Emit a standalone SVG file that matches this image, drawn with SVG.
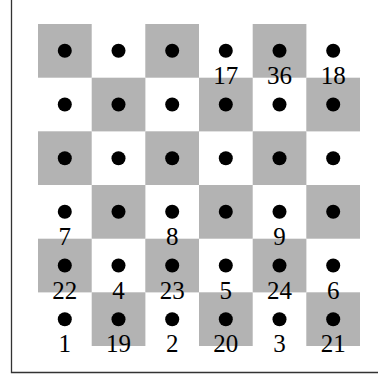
<svg xmlns="http://www.w3.org/2000/svg" width="378" height="376" viewBox="0 0 378 376">
<style>
.g{fill:#b3b3b3}
.d{fill:#000}
.t{font-family:"Liberation Serif","DejaVu Serif",serif;font-size:25px;text-anchor:middle;fill:#000}
.f{stroke:#333;stroke-width:1.3;fill:none}
</style>
<rect width="378" height="376" fill="#fff"/>
<g id="frame"><path class="f" d="M11.5,0 V372.5 H378"/></g>
<g id="cells">
<rect class="g" x="38" y="24" width="53.7" height="53.7"/>
<rect class="g" x="145.3" y="24" width="53.7" height="53.7"/>
<rect class="g" x="252.7" y="24" width="53.7" height="53.7"/>
<rect class="g" x="91.7" y="77.7" width="53.7" height="53.7"/>
<rect class="g" x="199" y="77.7" width="53.7" height="53.7"/>
<rect class="g" x="306.3" y="77.7" width="53.7" height="53.7"/>
<rect class="g" x="38" y="131.3" width="53.7" height="53.7"/>
<rect class="g" x="145.3" y="131.3" width="53.7" height="53.7"/>
<rect class="g" x="252.7" y="131.3" width="53.7" height="53.7"/>
<rect class="g" x="91.7" y="185" width="53.7" height="53.7"/>
<rect class="g" x="199" y="185" width="53.7" height="53.7"/>
<rect class="g" x="306.3" y="185" width="53.7" height="53.7"/>
<rect class="g" x="38" y="238.7" width="53.7" height="53.7"/>
<rect class="g" x="145.3" y="238.7" width="53.7" height="53.7"/>
<rect class="g" x="252.7" y="238.7" width="53.7" height="53.7"/>
<rect class="g" x="91.7" y="292.3" width="53.7" height="53.7"/>
<rect class="g" x="199" y="292.3" width="53.7" height="53.7"/>
<rect class="g" x="306.3" y="292.3" width="53.7" height="53.7"/>
</g>
<g id="dots">
<circle class="d" cx="64.8" cy="50.8" r="7"/><circle class="d" cx="118.5" cy="50.8" r="7"/><circle class="d" cx="172.2" cy="50.8" r="7"/><circle class="d" cx="225.8" cy="50.8" r="7"/><circle class="d" cx="279.5" cy="50.8" r="7"/><circle class="d" cx="333.2" cy="50.8" r="7"/>
<circle class="d" cx="64.8" cy="104.5" r="7"/><circle class="d" cx="118.5" cy="104.5" r="7"/><circle class="d" cx="172.2" cy="104.5" r="7"/><circle class="d" cx="225.8" cy="104.5" r="7"/><circle class="d" cx="279.5" cy="104.5" r="7"/><circle class="d" cx="333.2" cy="104.5" r="7"/>
<circle class="d" cx="64.8" cy="158.2" r="7"/><circle class="d" cx="118.5" cy="158.2" r="7"/><circle class="d" cx="172.2" cy="158.2" r="7"/><circle class="d" cx="225.8" cy="158.2" r="7"/><circle class="d" cx="279.5" cy="158.2" r="7"/><circle class="d" cx="333.2" cy="158.2" r="7"/>
<circle class="d" cx="64.8" cy="211.8" r="7"/><circle class="d" cx="118.5" cy="211.8" r="7"/><circle class="d" cx="172.2" cy="211.8" r="7"/><circle class="d" cx="225.8" cy="211.8" r="7"/><circle class="d" cx="279.5" cy="211.8" r="7"/><circle class="d" cx="333.2" cy="211.8" r="7"/>
<circle class="d" cx="64.8" cy="265.5" r="7"/><circle class="d" cx="118.5" cy="265.5" r="7"/><circle class="d" cx="172.2" cy="265.5" r="7"/><circle class="d" cx="225.8" cy="265.5" r="7"/><circle class="d" cx="279.5" cy="265.5" r="7"/><circle class="d" cx="333.2" cy="265.5" r="7"/>
<circle class="d" cx="64.8" cy="319.2" r="7"/><circle class="d" cx="118.5" cy="319.2" r="7"/><circle class="d" cx="172.2" cy="319.2" r="7"/><circle class="d" cx="225.8" cy="319.2" r="7"/><circle class="d" cx="279.5" cy="319.2" r="7"/><circle class="d" cx="333.2" cy="319.2" r="7"/>
</g>
<g id="labels">
<text class="t" x="225.8" y="84">17</text><text class="t" x="279.5" y="84">36</text><text class="t" x="333.2" y="84">18</text>
<text class="t" x="64.8" y="245">7</text><text class="t" x="172.2" y="245">8</text><text class="t" x="279.5" y="245">9</text>
<text class="t" x="64.8" y="298.5">22</text><text class="t" x="118.5" y="298.5">4</text><text class="t" x="172.2" y="298.5">23</text><text class="t" x="225.8" y="298.5">5</text><text class="t" x="279.5" y="298.5">24</text><text class="t" x="333.2" y="298.5">6</text>
<text class="t" x="64.8" y="352">1</text><text class="t" x="118.5" y="352">19</text><text class="t" x="172.2" y="352">2</text><text class="t" x="225.8" y="352">20</text><text class="t" x="279.5" y="352">3</text><text class="t" x="333.2" y="352">21</text>
</g>
</svg>
